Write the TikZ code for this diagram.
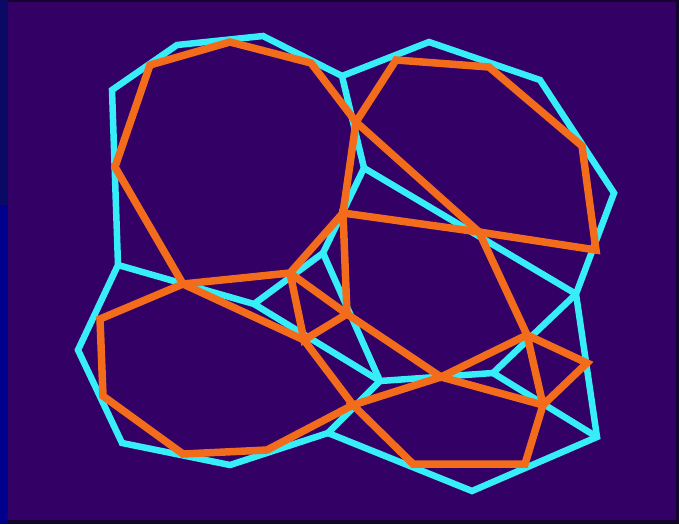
\documentclass[tikz,border=0pt]{standalone}
\definecolor{bgpurple}{RGB}{51,0,102}
\definecolor{edgedark}{RGB}{20,5,45}
\definecolor{navytop}{RGB}{10,10,100}
\definecolor{navybot}{RGB}{0,0,140}
\definecolor{cyanline}{RGB}{55,238,248}
\definecolor{orangeline}{RGB}{242,108,28}
\tikzset{
  cyanedge/.style={draw=cyanline, line width=6.5pt, line join=miter, miter limit=2},
  orangeedge/.style={draw=orangeline, line width=7.5pt, line join=miter, miter limit=2},
}
\begin{document}
\begin{tikzpicture}[x=1pt,y=-1pt]
\useasboundingbox (0,0) rectangle (679,524);
% background
\fill[edgedark] (0,0) rectangle (679,524);
\fill[navytop] (0,0) rectangle (8,205);
\fill[navybot] (0,205) rectangle (8,524);
\fill[bgpurple] (8,2) rectangle (676,520);

% cyan vertices
\coordinate (V1) at (112,90);
\coordinate (V2) at (177,45);
\coordinate (V3) at (263,36);
\coordinate (V4) at (342,76);
\coordinate (V5) at (429,42);
\coordinate (V6) at (540,80);
\coordinate (V7) at (614,193);
\coordinate (V8) at (576,294);
\coordinate (V9) at (597,437);
\coordinate (V10) at (472,491);
\coordinate (V11) at (328,433);
\coordinate (V12) at (230,465);
\coordinate (V13) at (122,443);
\coordinate (V14) at (78,350);
\coordinate (V15) at (118,265);
\coordinate (V16) at (364,168);
\coordinate (V17) at (323,253);
\coordinate (V19) at (254,304);
\coordinate (Vc) at (380,381);
\coordinate (V20) at (493,373);

\draw[cyanedge] (V15) -- (V1) -- (V2) -- (V3) -- (V4) -- (V5) -- (V6) -- (V7) -- (V8) -- (V9) -- (V10) -- (V11) -- (V12) -- (V13) -- (V14) -- cycle;
\draw[cyanedge] (V4) -- (V16) -- (V8);
\draw[cyanedge] (V16) -- (V17) -- (Vc);
\draw[cyanedge] (V15) -- (V19) -- (V17);
\draw[cyanedge] (V19) -- (Vc) -- (V20);
\draw[cyanedge] (Vc) -- (V11);
\draw[cyanedge] (V8) -- (V20) -- (V9);

% orange vertices
\coordinate (P1) at (150,65);
\coordinate (P2) at (230,42);
\coordinate (P3) at (311,63);
\coordinate (P4) at (356,122);
\coordinate (P5) at (343,213);
\coordinate (P6) at (290,273);
\coordinate (P7) at (183,284);
\coordinate (P8) at (115,167);
\coordinate (Q2) at (396,60);
\coordinate (Q3) at (489,67);
\coordinate (Q4) at (582,146);
\coordinate (Q5) at (596,250);
\coordinate (R) at (479,232);
\coordinate (S) at (304,340);
\coordinate (T) at (347,314);
\coordinate (U) at (441,377);
\coordinate (W) at (353,405);
\coordinate (X) at (527,335);
\coordinate (Y) at (543,405);
\coordinate (Z) at (587,363);
\coordinate (L1) at (100,319);
\coordinate (L2) at (103,396);
\coordinate (L3) at (183,454);
\coordinate (L4) at (267,450);
\coordinate (B1) at (413,464);
\coordinate (B2) at (525,464);

\draw[orangeedge] (P1) -- (P2) -- (P3) -- (P4) -- (P5) -- (P6) -- (P7) -- (P8) -- cycle;
\draw[orangeedge] (P4) -- (Q2) -- (Q3) -- (Q4) -- (Q5) -- (R) -- cycle;
\draw[orangeedge] (P5) -- (R) -- (X) -- (U) -- (T) -- cycle;
\draw[orangeedge] (P6) -- (T) -- (S) -- cycle;
\draw[orangeedge] (P7) -- (L1) -- (L2) -- (L3) -- (L4) -- (W) -- (S) -- cycle;
\draw[orangeedge] (W) -- (B1) -- (B2) -- (Y) -- (U) -- cycle;
\draw[orangeedge] (X) -- (Z) -- (Y) -- cycle;
\end{tikzpicture}
\end{document}
